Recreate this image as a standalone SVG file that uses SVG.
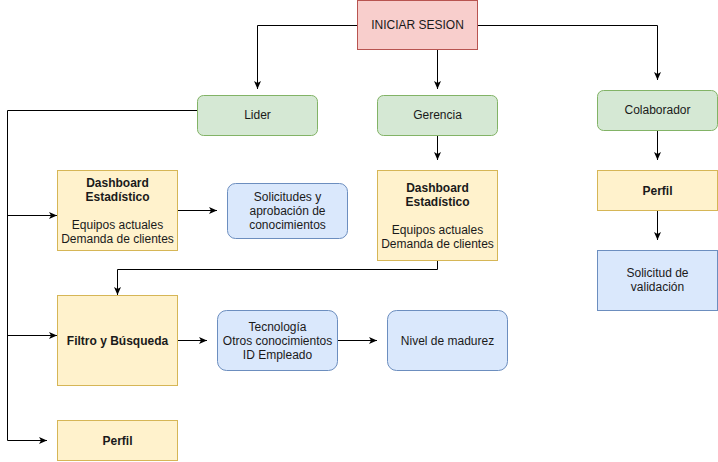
<svg xmlns="http://www.w3.org/2000/svg" width="718" height="462" viewBox="0 0 718 462">
<defs>
<style>
text{font-family:"Liberation Sans",Arial,Helvetica,sans-serif;font-size:12px;fill:#1a1a1a;text-anchor:middle}
.b{font-weight:bold}
.red{fill:#f8cecc;stroke:#b85450;stroke-width:1}
.green{fill:#d5e8d4;stroke:#82b366;stroke-width:1}
.yellow{fill:#fff2cc;stroke:#d6b656;stroke-width:1}
.blue{fill:#dae8fc;stroke:#6c8ebf;stroke-width:1}
.edge{fill:none;stroke:#000;stroke-width:1}
.arr{marker-end:url(#ah)}
</style>
<marker id="ah" markerUnits="userSpaceOnUse" markerWidth="10" markerHeight="10" refX="8" refY="3.5" orient="auto">
<path d="M0,0 L8,3.5 L0,7 L2,3.5 Z" fill="#000"/>
</marker>
</defs>
<rect width="718" height="462" fill="#fff"/>
<g id="connectors">
<path class="edge arr" d="M358,25.5 H257.5 V89"/>
<path class="edge arr" d="M437.5,50 V89"/>
<path class="edge arr" d="M477,25.5 H657.5 V80"/>
<path class="edge arr" d="M437.5,135 V160"/>
<path class="edge arr" d="M437.5,260 V269.5 H117.5 V295"/>
<path class="edge arr" d="M657.5,130 V160"/>
<path class="edge arr" d="M657.5,210 V240"/>
<path class="edge arr" d="M197,110.5 H7.5 V440.5 H47"/>
<path class="edge arr" d="M7.5,215.5 H57"/>
<path class="edge arr" d="M7.5,335.5 H57"/>
<path class="edge arr" d="M177,210.5 H217"/>
<path class="edge arr" d="M177,340.5 H207"/>
<path class="edge arr" d="M337,340.5 H377"/>
</g>
<g id="iniciar">
<rect class="red" x="357.5" y="0.5" width="120" height="49"/>
<text x="417.5" y="29">INICIAR SESION</text>
</g>
<g id="lider">
<rect class="green" x="197.5" y="95.5" width="120" height="40" rx="6"/>
<text x="257.5" y="119">Lider</text>
</g>
<g id="gerencia">
<rect class="green" x="377.5" y="95.5" width="120" height="40" rx="6"/>
<text x="437.5" y="119">Gerencia</text>
</g>
<g id="colaborador">
<rect class="green" x="597.5" y="90.5" width="120" height="40" rx="6"/>
<text x="657.5" y="114">Colaborador</text>
</g>
<g id="dashboard1">
<rect class="yellow" x="57.5" y="170.5" width="120" height="80"/>
<text class="b" x="117.5" y="187">Dashboard</text>
<text class="b" x="117.5" y="201">Estadístico</text>
<text x="117.5" y="229">Equipos actuales</text>
<text x="117.5" y="243">Demanda de clientes</text>
</g>
<g id="solicitudes">
<rect class="blue" x="227.5" y="183.5" width="120" height="55" rx="8"/>
<text x="287.5" y="201">Solicitudes y</text>
<text x="287.5" y="215">aprobación de</text>
<text x="287.5" y="229">conocimientos</text>
</g>
<g id="dashboard2">
<rect class="yellow" x="377.5" y="170.5" width="120" height="90"/>
<text class="b" x="437.5" y="192">Dashboard</text>
<text class="b" x="437.5" y="206">Estadístico</text>
<text x="437.5" y="234">Equipos actuales</text>
<text x="437.5" y="248">Demanda de clientes</text>
</g>
<g id="perfil-colab">
<rect class="yellow" x="597.5" y="170.5" width="120" height="40"/>
<text class="b" x="657.5" y="195">Perfil</text>
</g>
<g id="solicitud-validacion">
<rect class="blue" x="597.5" y="250.5" width="120" height="60"/>
<text x="657.5" y="277">Solicitud de</text>
<text x="657.5" y="291">validación</text>
</g>
<g id="filtro">
<rect class="yellow" x="57.5" y="295.5" width="120" height="90"/>
<text class="b" x="117.5" y="345">Filtro y Búsqueda</text>
</g>
<g id="tecnologia">
<rect class="blue" x="217.5" y="310.5" width="120" height="60" rx="9"/>
<text x="277.5" y="331">Tecnología</text>
<text x="277.5" y="345">Otros conocimientos</text>
<text x="277.5" y="359">ID Empleado</text>
</g>
<g id="nivel">
<rect class="blue" x="387.5" y="310.5" width="120" height="60" rx="9"/>
<text x="447.5" y="345">Nivel de madurez</text>
</g>
<g id="perfil-lider">
<rect class="yellow" x="57.5" y="420.5" width="120" height="40"/>
<text class="b" x="117.5" y="445">Perfil</text>
</g>
</svg>
